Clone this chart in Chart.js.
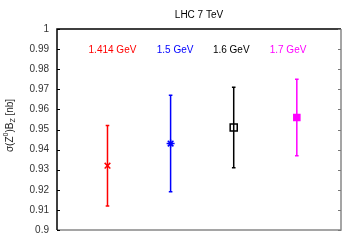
<!DOCTYPE html>
<html><head><meta charset="utf-8">
<script src="https://cdn.jsdelivr.net/npm/chart.js@4/dist/chart.umd.min.js"></script>
<style>html,body{margin:0;padding:0;background:#fff;}#wrap{width:358px;height:250px;}</style>
</head><body><div id="wrap"><canvas id="c" width="358" height="250"></canvas></div>
<script>
const title = "LHC 7 TeV";
const categories = ["1.414 GeV", "1.5 GeV", "1.6 GeV", "1.7 GeV"];
const values = [0.932, 0.943, 0.951, 0.956];
const errLow = [0.912, 0.919, 0.931, 0.937];
const errHigh = [0.952, 0.967, 0.971, 0.975];
const colors = ["#ff0000", "#0000ff", "#000000", "#ff00ff"];
const yTicks = [0.9, 0.91, 0.92, 0.93, 0.94, 0.95, 0.96, 0.97, 0.98, 0.99, 1];
const labelLevel = 0.99;

const FONT = "'Liberation Sans', Arial, sans-serif";
const styles = [
  {pointStyle: 'crossRot', radius: 4, fill: false},
  {pointStyle: 'star', radius: 4, fill: false},
  {pointStyle: 'rect', radius: 5, fill: false},
  {pointStyle: 'rect', radius: 4.3, fill: true}
];
const labelOffsets = [0.70, 1.78, 2.67, 3.57];

const datasets = categories.map((c, i) => ({
  label: c,
  data: [{x: i + 1, y: values[i]}],
  pointStyle: styles[i].pointStyle,
  pointRadius: styles[i].radius,
  pointHoverRadius: styles[i].radius,
  borderColor: colors[i],
  backgroundColor: styles[i].fill ? colors[i] : 'rgba(0,0,0,0)',
  pointBorderWidth: 1.5,
  showLine: false
}));

const deco = {
  id: 'deco',
  beforeDatasetsDraw(chart) {
    const {ctx, chartArea: a, scales: {x, y}} = chart;
    ctx.save();
    // error bars
    categories.forEach((c, i) => {
      const px = x.getPixelForValue(i + 1);
      const yl = y.getPixelForValue(errLow[i]);
      const yh = y.getPixelForValue(errHigh[i]);
      ctx.strokeStyle = colors[i];
      ctx.lineWidth = 1.5;
      ctx.beginPath();
      ctx.moveTo(px, yl); ctx.lineTo(px, yh);
      ctx.moveTo(px - 1.8, yl); ctx.lineTo(px + 1.8, yl);
      ctx.moveTo(px - 1.8, yh); ctx.lineTo(px + 1.8, yh);
      ctx.stroke();
    });
    ctx.restore();
  },
  afterDraw(chart) {
    const {ctx, chartArea: a, scales: {x, y}} = chart;
    ctx.save();
    // frame
    ctx.lineWidth = 1.5;
    ctx.strokeStyle = '#888';
    ctx.beginPath();
    ctx.moveTo(a.left, a.bottom); ctx.lineTo(a.right, a.bottom); ctx.lineTo(a.right, a.top);
    ctx.stroke();
    ctx.strokeStyle = '#000';
    ctx.beginPath();
    ctx.moveTo(a.right, a.top); ctx.lineTo(a.left, a.top); ctx.lineTo(a.left, a.bottom);
    ctx.stroke();
    // inward ticks
    ctx.lineWidth = 1;
    yTicks.forEach(v => {
      const py = Math.round(y.getPixelForValue(v)) + 0.5;
      ctx.strokeStyle = '#000';
      ctx.beginPath(); ctx.moveTo(a.left, py); ctx.lineTo(a.left + 3, py); ctx.stroke();
      ctx.strokeStyle = '#777';
      ctx.beginPath(); ctx.moveTo(a.right, py); ctx.lineTo(a.right - 3, py); ctx.stroke();
    });
    // title
    ctx.fillStyle = '#000';
    ctx.font = "10px " + FONT;
    ctx.textAlign = 'center';
    ctx.textBaseline = 'middle';
    ctx.fillText(title, (a.left + a.right) / 2, 15);
    // category labels
    ctx.textAlign = 'left';
    categories.forEach((c, i) => {
      ctx.fillStyle = colors[i];
      ctx.fillText(c, x.getPixelForValue(labelOffsets[i]), y.getPixelForValue(labelLevel) + 1);
    });
    // y axis label
    ctx.translate(10, (a.top + a.bottom) / 2 - 4);
    ctx.rotate(-Math.PI / 2);
    ctx.fillStyle = '#222';
    const parts = [
      {t: "σ(Z", s: 10, dy: 0},
      {t: "0", s: 7, dy: -4},
      {t: ")B", s: 10, dy: 0},
      {t: "Z", s: 7, dy: 3},
      {t: " [nb]", s: 10, dy: 0}
    ];
    let w = 0;
    parts.forEach(p => { ctx.font = p.s + "px " + FONT; w += ctx.measureText(p.t).width; });
    let cx = -w / 2;
    ctx.textAlign = 'left';
    parts.forEach(p => {
      ctx.font = p.s + "px " + FONT;
      ctx.fillText(p.t, cx, p.dy);
      cx += ctx.measureText(p.t).width;
    });
    ctx.restore();
  }
};

new Chart(document.getElementById('c'), {
  type: 'scatter',
  data: {datasets},
  options: {
    responsive: false,
    animation: false,
    events: [],
    layout: {padding: {left: 0, right: 17, top: 29, bottom: 20}},
    plugins: {legend: {display: false}, tooltip: {enabled: false}, title: {display: false}},
    scales: {
      x: {type: 'linear', min: 0.2, max: 4.7, display: false},
      y: {
        type: 'linear', min: 0.9, max: 1,
        afterBuildTicks(s) { s.ticks = yTicks.map(v => ({value: v})); },
        afterFit(s) { s.width = 57; },
        grid: {display: false, drawTicks: false},
        border: {display: false},
        ticks: {
          padding: 8, color: '#333',
          font: {family: FONT, size: 10},
          callback: v => String(Math.round(v * 100) / 100)
        }
      }
    }
  },
  plugins: [deco]
});
</script></body></html>
